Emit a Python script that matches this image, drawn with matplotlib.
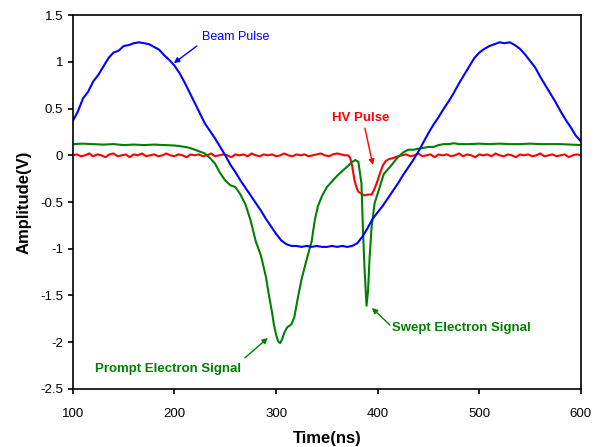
import numpy as np
import matplotlib
matplotlib.use("Agg")
import matplotlib.pyplot as plt

plt.rcParams['font.family'] = ['Liberation Sans', 'DejaVu Sans']

# Beam pulse (blue)
blue_t = [100, 105, 110, 115, 120, 125, 130, 135, 140, 145, 150, 155, 160, 165, 170,
          175, 180, 185, 190, 195, 200, 205, 210, 215, 220, 225, 230, 235, 240, 245,
          250, 255, 260, 265, 270, 275, 280, 285, 290, 295, 300, 305, 310, 315, 320,
          325, 330, 335, 340, 345, 350, 355, 360, 365, 370, 375, 380, 385, 390, 395,
          400, 405, 410, 415, 420, 425, 430, 435, 440, 445, 450, 455, 460, 465, 470,
          475, 480, 485, 490, 495, 500, 505, 510, 515, 520, 525, 530, 535, 540, 545,
          550, 555, 560, 565, 570, 575, 580, 585, 590, 595, 600]
blue_v = [0.37, 0.47, 0.61, 0.68, 0.79, 0.86, 0.95, 1.04, 1.10, 1.12, 1.17, 1.18, 1.20, 1.21, 1.20,
          1.19, 1.16, 1.13, 1.07, 1.02, 0.96, 0.88, 0.78, 0.67, 0.56, 0.45, 0.34, 0.26, 0.18, 0.09,
          0.00, -0.10, -0.18, -0.27, -0.35, -0.43, -0.51, -0.59, -0.68, -0.76, -0.84, -0.91, -0.95, -0.97, -0.97,
          -0.98, -0.97, -0.98, -0.97, -0.98, -0.98, -0.97, -0.98, -0.97, -0.98, -0.97, -0.94, -0.87, -0.78, -0.68,
          -0.61, -0.54, -0.46, -0.38, -0.30, -0.21, -0.13, -0.05, 0.04, 0.14, 0.24, 0.33, 0.41, 0.50, 0.58,
          0.67, 0.77, 0.86, 0.95, 1.04, 1.10, 1.14, 1.17, 1.19, 1.21, 1.20, 1.21, 1.18, 1.14, 1.08,
          1.01, 0.94, 0.84, 0.75, 0.66, 0.57, 0.47, 0.38, 0.30, 0.21, 0.15]

# Prompt / swept electron signal (green)
green_t = [100, 110, 120, 130, 140, 150, 160, 170, 180, 190, 200, 205, 210, 215, 220,
           225, 230, 235, 240, 245, 250, 255, 260, 265, 270, 275, 280, 285, 290, 293,
           296, 298, 300, 302, 304, 306, 308, 311, 315, 318, 321, 325, 330, 335, 338,
           341, 345, 350, 355, 360, 365, 370, 375, 378, 381, 384, 385.5, 387, 389, 390.5,
           392, 394, 397, 402, 406, 410, 414, 419, 425, 430, 435, 440, 445, 450, 455,
           460, 465, 470, 475, 480, 490, 500, 510, 520, 530, 540, 550, 560, 570, 580,
           590, 600]
green_v = [0.12, 0.125, 0.12, 0.115, 0.12, 0.11, 0.115, 0.11, 0.115, 0.11, 0.105, 0.10, 0.09, 0.08, 0.06,
           0.04, 0.02, -0.03, -0.09, -0.19, -0.27, -0.32, -0.34, -0.42, -0.53, -0.70, -0.92, -1.07, -1.30, -1.50,
           -1.68, -1.82, -1.92, -1.99, -2.01, -1.97, -1.90, -1.84, -1.81, -1.73, -1.55, -1.33, -1.12, -0.92, -0.70,
           -0.55, -0.44, -0.34, -0.28, -0.22, -0.17, -0.12, -0.07, -0.05, -0.07, -0.30, -0.80, -1.20, -1.61, -1.45,
           -1.10, -0.77, -0.51, -0.34, -0.20, -0.15, -0.10, -0.03, 0.03, 0.06, 0.06, 0.07, 0.08, 0.09, 0.09,
           0.11, 0.12, 0.12, 0.13, 0.12, 0.12, 0.125, 0.12, 0.125, 0.12, 0.12, 0.125, 0.12, 0.12, 0.12,
           0.115, 0.11]

# HV pulse (red)
red_t = [100, 104, 108, 112, 116, 120, 124, 128, 132, 136, 140, 144, 148, 152, 156,
         160, 164, 168, 172, 176, 180, 184, 188, 192, 196, 200, 204, 208, 212, 216,
         220, 224, 228, 232, 236, 240, 244, 248, 252, 256, 260, 264, 268, 272, 276,
         280, 284, 288, 292, 296, 300, 304, 308, 312, 316, 320, 324, 328, 332, 336,
         340, 344, 348, 352, 356, 360, 364, 368, 371, 373, 375, 377, 379, 381, 384,
         387, 390, 394, 396, 399, 402, 405, 408, 411, 415, 420, 424, 428, 432, 436,
         440, 444, 448, 452, 456, 460, 464, 468, 472, 476, 480, 484, 488, 492, 496,
         500, 504, 508, 512, 516, 520, 524, 528, 532, 536, 540, 544, 548, 552, 556,
         560, 564, 568, 572, 576, 580, 584, 588, 592, 596, 600]
red_v = [0.00, 0.01, -0.01, 0.00, 0.02, -0.01, 0.01, 0.00, -0.02, 0.01, 0.02, -0.01, 0.00, 0.01, -0.02,
         0.01, 0.00, 0.02, -0.01, 0.00, 0.01, -0.01, 0.00, 0.02, 0.00, -0.01, 0.01, 0.00, -0.02, 0.01,
         0.00, 0.01, -0.01, 0.00, 0.02, -0.01, 0.00, 0.01, 0.00, -0.02, 0.01, 0.00, 0.01, -0.01, 0.02,
         0.00, -0.01, 0.01, 0.00, 0.01, -0.01, 0.00, 0.02, 0.00, -0.01, 0.01, 0.00, 0.01, -0.01, 0.00,
         0.01, 0.02, 0.00, -0.01, 0.01, 0.02, 0.01, 0.00, 0.00, -0.03, -0.12, -0.26, -0.34, -0.39, -0.41,
         -0.43, -0.42, -0.42, -0.38, -0.30, -0.20, -0.11, -0.06, -0.04, -0.03, -0.01, 0.00, 0.01, -0.01, 0.00,
         0.02, -0.01, 0.00, 0.01, -0.02, 0.01, 0.00, 0.01, -0.01, 0.00, 0.02, -0.01, 0.01, 0.00, -0.02,
         0.01, 0.00, 0.01, -0.01, 0.02, 0.00, -0.01, 0.01, 0.00, -0.02, 0.01, 0.00, 0.01, -0.01, 0.00,
         0.02, -0.01, 0.00, 0.01, -0.01, 0.00, 0.01, -0.02, 0.00, 0.01, 0.00]

x_ticks = [100, 200, 300, 400, 500, 600]
y_ticks = [-2.5, -2, -1.5, -1, -0.5, 0, 0.5, 1, 1.5]
y_tick_labels = ['-2.5', '-2', '-1.5', '-1', '-0.5', '0', '0.5', '1', '1.5']

BLUE = '#0000FF'
GREEN = '#008000'
RED = '#FF0000'

fig = plt.figure(figsize=(6.02, 4.47), dpi=100)
ax = fig.add_axes([0.121, 0.130, 0.844, 0.836])

ax.plot(red_t, red_v, color=RED, lw=1.5)
ax.plot(green_t, green_v, color=GREEN, lw=1.5)
ax.plot(blue_t, blue_v, color=BLUE, lw=1.5)

ax.set_xlim(100, 600)
ax.set_ylim(-2.5, 1.5)
ax.set_xticks(x_ticks)
ax.set_yticks(y_ticks)
ax.set_yticklabels(y_tick_labels)
ax.tick_params(direction='out', length=3.6, width=1.2, labelsize=9.5, top=False, right=False)
ax.tick_params(axis='x', pad=10)
for s in ax.spines.values():
    s.set_linewidth(1.2)

ax.set_xlabel('Time(ns)', fontsize=12, fontweight='bold', labelpad=8)
ax.set_ylabel('Amplitude(V)', fontsize=12, fontweight='bold', labelpad=6)

arrow = lambda c: dict(arrowstyle='-|>', color=c, lw=1.0, mutation_scale=8, shrinkA=0, shrinkB=0)

ax.text(227, 1.265, 'Beam Pulse', color=BLUE, fontsize=9, ha='left', va='center')
ax.annotate('', xy=(199.4, 0.987), xytext=(222, 1.17), arrowprops=arrow(BLUE))

ax.text(383.5, 0.398, 'HV Pulse', color=RED, fontsize=9.5, fontweight='bold', ha='center', va='center')
ax.annotate('', xy=(395.3, -0.104), xytext=(387.4, 0.291), arrowprops=arrow(RED))

ax.text(414, -1.848, 'Swept Electron Signal', color=GREEN, fontsize=9.5, fontweight='bold',
        ha='left', va='center')
ax.annotate('', xy=(394.3, -1.634), xytext=(412, -1.816), arrowprops=arrow(GREEN))

ax.text(121.7, -2.286, 'Prompt Electron Signal', color=GREEN, fontsize=9.5, fontweight='bold',
        ha='left', va='center')
ax.annotate('', xy=(291.9, -1.955), xytext=(269.3, -2.168), arrowprops=arrow(GREEN))

fig.savefig('out.png', dpi=100)
